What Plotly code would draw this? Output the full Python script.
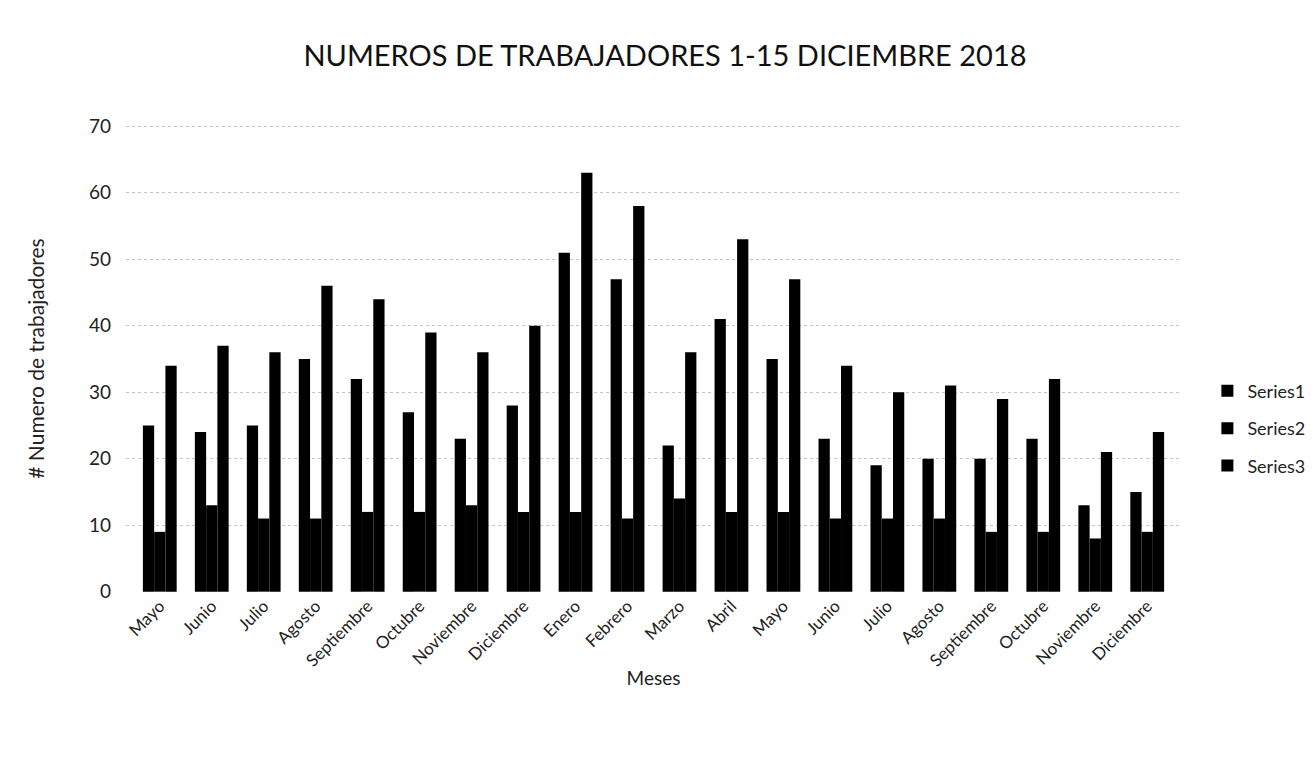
import plotly.graph_objects as go

months = ["Mayo", "Junio", "Julio", "Agosto", "Septiembre", "Octubre", "Noviembre",
          "Diciembre", "Enero", "Febrero", "Marzo", "Abril", "Mayo", "Junio", "Julio",
          "Agosto", "Septiembre", "Octubre", "Noviembre", "Diciembre"]
series1 = [25, 24, 25, 35, 32, 27, 23, 28, 51, 47, 22, 41, 35, 23, 19, 20, 20, 23, 13, 15]
series2 = [9, 13, 11, 11, 12, 12, 13, 12, 12, 11, 14, 12, 12, 11, 11, 11, 9, 9, 8, 9]
series3 = [34, 37, 36, 46, 44, 39, 36, 40, 63, 58, 36, 53, 47, 34, 30, 31, 29, 32, 21, 24]
series_names = ["Series1", "Series2", "Series3"]
y_ticks = [0, 10, 20, 30, 40, 50, 60, 70]

xpos = list(range(len(months)))
FONT = "Lato, 'Open Sans', sans-serif"

fig = go.Figure()
for name, vals in zip(series_names, [series1, series2, series3]):
    fig.add_trace(go.Bar(x=xpos, y=vals, name=name, legendgroup=name,
                         marker=dict(color="black", line=dict(width=0))))

fig.update_layout(
    width=1314, height=767,
    barmode="group", bargap=0.35, bargroupgap=0,
    paper_bgcolor="white", plot_bgcolor="white",
    font=dict(family=FONT, color="#222", size=18),
    title=dict(text="NUMEROS DE TRABAJADORES 1-15 DICIEMBRE 2018",
               x=0.5, xanchor="center", y=0.937, yanchor="middle",
               font=dict(size=29, family=FONT, color="#111")),
    margin=dict(l=118, r=134, t=117, b=183),
    legend=dict(x=1.025, xanchor="left", y=0.35, yanchor="middle",
                font=dict(size=18, family=FONT), itemwidth=30,
                traceorder="grouped", tracegroupgap=11,
                bgcolor="rgba(0,0,0,0)"),
    showlegend=True,
)
fig.update_xaxes(
    tickmode="array", tickvals=xpos, ticktext=months, tickangle=-45,
    range=[-0.65, len(months) - 0.35],
    showgrid=False, showline=False, zeroline=False,
    tickfont=dict(size=17, family=FONT),
    title=dict(text="Meses", font=dict(size=19, family=FONT), standoff=2),
)
fig.update_yaxes(
    range=[-0.05, 70.2], tickmode="array", tickvals=y_ticks,
    showgrid=True, gridcolor="#c4c4c4", griddash="dot", gridwidth=1,
    zeroline=False, showline=False,
    tickfont=dict(size=19, family=FONT), ticks="", ticklabelstandoff=14,
    title=dict(text="# Numero de trabajadores", font=dict(size=21, family=FONT), standoff=38),
)

fig.write_html("out.html")
